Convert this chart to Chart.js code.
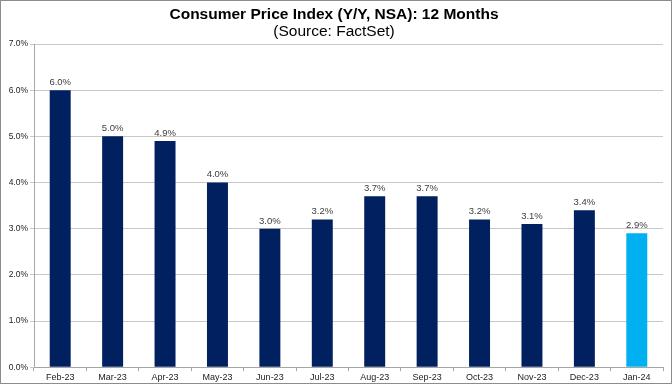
<!DOCTYPE html>
<html>
<head>
<meta charset="utf-8">
<script src="https://cdn.jsdelivr.net/npm/chart.js@4/dist/chart.umd.min.js"></script>
<style>
  html, body { margin: 0; padding: 0; background: #fff; }
  #wrap { width: 672px; height: 384px; box-sizing: border-box; border: 1px solid #8c8c8c; position: relative; }
</style>
</head>
<body>
<div id="wrap"><canvas id="cpiChart"></canvas></div>
<script>
// CPI y/y (NSA), last 12 months
const months = ["Feb-23", "Mar-23", "Apr-23", "May-23", "Jun-23", "Jul-23",
    "Aug-23", "Sep-23", "Oct-23", "Nov-23", "Dec-23", "Jan-24"];
const cpi = [6.0, 5.0, 4.9, 4.0, 3.0, 3.2, 3.7, 3.7, 3.2, 3.1, 3.4, 2.9];
const yTicks = [0, 1, 2, 3, 4, 5, 6, 7];

const barColors = months.map((m, i) => i === months.length - 1 ? "#00b0f0" : "#002060");
const FONT = "'Liberation Sans', Arial, sans-serif";

// draw the value above each bar
const valueLabels = {
    id: "valueLabels",
    afterDatasetsDraw(chart) {
        const c = chart.ctx;
        const meta = chart.getDatasetMeta(0);
        c.save();
        c.font = "9.5px " + FONT;
        c.fillStyle = "#404040";
        c.textAlign = "center";
        c.textBaseline = "bottom";
        meta.data.forEach((bar, i) => {
            c.fillText(cpi[i].toFixed(1) + "%", bar.x, bar.y - 3);
        });
        c.restore();
    }
};

const ctx = document.getElementById("cpiChart").getContext("2d");
new Chart(ctx, {
    type: "bar",
    data: {
        labels: months,
        datasets: [{
            data: cpi,
            backgroundColor: barColors,
            barPercentage: 0.8,
            categoryPercentage: 0.5,
        }],
    },
    options: {
        responsive: true,
        maintainAspectRatio: false,
        animation: false,
        layout: { padding: { left: 4, right: 8, top: 0, bottom: -1 } },
        scales: {
            x: {
                grid: { display: true, drawOnChartArea: false, color: "#a6a6a6", tickLength: 4, offset: true },
                border: { color: "#a6a6a6" },
                ticks: { color: "#222", font: { size: 9, family: FONT }, maxRotation: 0, padding: 1 },
            },
            y: {
                min: 0,
                max: 7,
                afterBuildTicks(scale) { scale.ticks = yTicks.map(v => ({ value: v })); },
                afterFit(scale) { scale.width = 29; },
                grid: { color: "#c8c8c8", tickLength: 4 },
                border: { color: "#a6a6a6" },
                ticks: {
                    color: "#222",
                    padding: 2,
                    font: { size: 8.5, family: FONT },
                    callback: v => v.toFixed(1) + "%",
                },
            },
        },
        plugins: {
            legend: { display: false },
            tooltip: { enabled: false },
            title: {
                display: true,
                text: "Consumer Price Index (Y/Y, NSA): 12 Months",
                color: "#000",
                font: { size: 15.5, weight: "bold", family: FONT, lineHeight: 1.0 },
                padding: { top: 6, bottom: 1 },
            },
            subtitle: {
                display: true,
                text: "(Source: FactSet)",
                color: "#000",
                font: { size: 15.5, family: FONT, lineHeight: 1.0 },
                padding: { top: 0, bottom: 5 },
            },
        },
    },
    plugins: [valueLabels],
});
</script>
</body>
</html>
